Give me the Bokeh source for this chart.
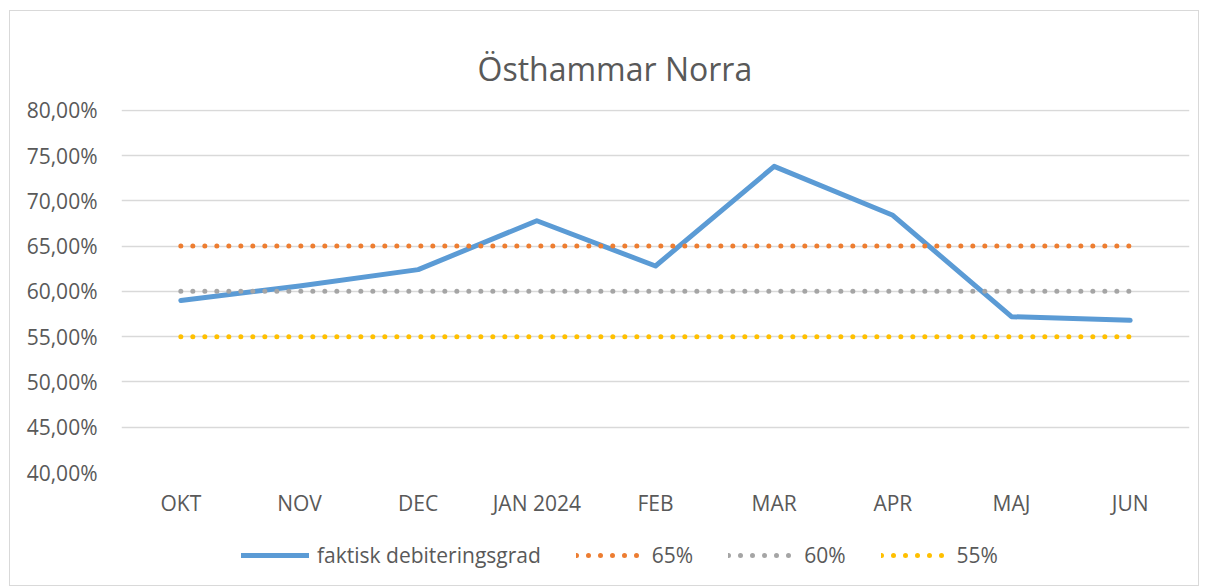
from bokeh.plotting import figure
from bokeh.layouts import column
from bokeh.models import (FactorRange, Range1d, FixedTicker, CustomJSTickFormatter,
                          Legend, LegendItem)
from bokeh.embed import file_html
from bokeh.resources import INLINE

months = ["OKT", "NOV", "DEC", "JAN 2024", "FEB", "MAR", "APR", "MAJ", "JUN"]
faktisk = [59.0, 60.6, 62.4, 67.8, 62.8, 73.8, 68.4, 57.2, 56.8]
mal65 = [65, 65, 65, 65, 65, 65, 65, 65, 65]
mal60 = [60, 60, 60, 60, 60, 60, 60, 60, 60]
mal55 = [55, 55, 55, 55, 55, 55, 55, 55, 55]
y_ticks = [40, 45, 50, 55, 60, 65, 70, 75, 80]
series_names = ["faktisk debiteringsgrad", "65%", "60%", "55%"]

FONT = "Open Sans"
TXT = "#595959"
STYLES = [dict(line_color="#5B9BD5", line_width=5, line_cap="round", line_join="round"),
          dict(line_color="#ED7D31", line_width=5, line_dash="0 12", line_cap="round"),
          dict(line_color="#A5A5A5", line_width=5, line_dash="0 12", line_cap="round"),
          dict(line_color="#FFC000", line_width=5, line_dash="0 12", line_cap="round")]

p = figure(x_range=FactorRange(*months), y_range=Range1d(40, 80.08),
           width=1188, height=514, output_backend="svg", toolbar_location=None,
           title="Östhammar Norra",
           min_border_left=111, min_border_right=9, min_border_top=98,
           min_border_bottom=53)
p.outline_line_color = None

p.title.align = "left"
p.title.offset = 356
p.title.vertical_align = "top"
p.title.text_font = FONT
p.title.text_font_size = "32px"
p.title.text_font_style = "normal"
p.title.text_color = TXT
p.title.standoff = 36

p.xgrid.grid_line_color = None
p.ygrid.grid_line_color = "#d9d9d9"
p.ygrid.grid_line_width = 1.5

p.yaxis.ticker = FixedTicker(ticks=y_ticks)
p.yaxis.formatter = CustomJSTickFormatter(code="return tick.toFixed(2).replace('.', ',') + '%';")
for ax in (p.xaxis[0], p.yaxis[0]):
    ax.axis_line_color = None
    ax.major_tick_line_color = None
    ax.minor_tick_line_color = None
    ax.major_label_text_font = FONT
    ax.major_label_text_font_size = "21px"
    ax.major_label_text_color = TXT
p.yaxis.major_label_standoff = 18
p.xaxis.major_label_standoff = 10

for vals, st in zip([faktisk, mal65, mal60, mal55], STYLES):
    p.line(months, vals, **st)

# legend strip below the chart
lg = figure(x_range=Range1d(0, 1), y_range=Range1d(0, 1), width=1188, height=60,
            output_backend="svg", toolbar_location=None,
            min_border_left=111, min_border_right=9, min_border_top=0, min_border_bottom=0)
lg.axis.visible = False
lg.grid.visible = False
lg.outline_line_color = None
nan = float("nan")
proxies = [lg.line([nan], [nan], **st) for st in STYLES]
legend = Legend(items=[LegendItem(label=n, renderers=[r]) for n, r in zip(series_names, proxies)],
                orientation="horizontal", location=(120, 16),
                glyph_width=68, glyph_height=20, label_standoff=8, spacing=35,
                border_line_color=None, background_fill_alpha=0,
                label_text_font=FONT, label_text_font_size="21px", label_text_color=TXT,
                margin=0, padding=0)
lg.add_layout(legend)

layout = column(p, lg, spacing=0)
layout.styles = {"border": "1px solid #d9d9d9", "margin-left": "9px", "margin-top": "10px"}

open("out.html", "w").write(file_html(layout, INLINE))
